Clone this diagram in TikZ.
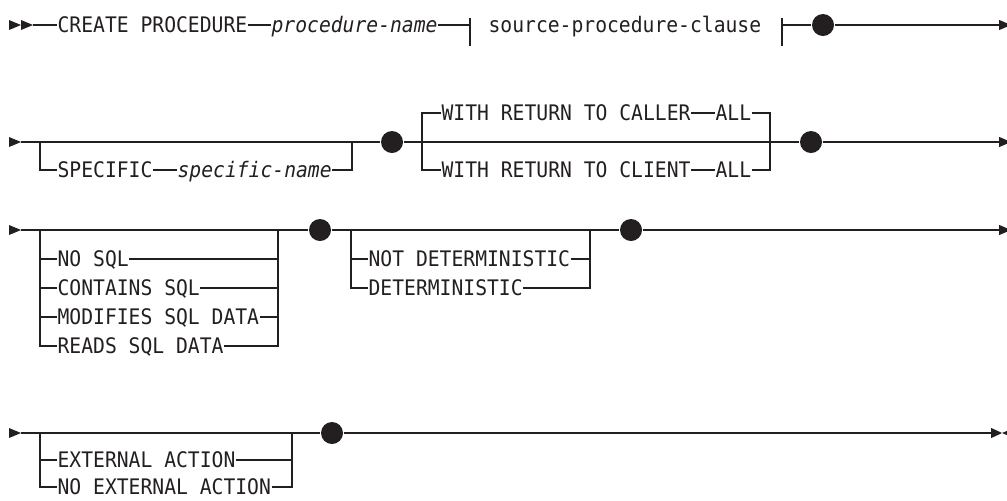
\documentclass[tikz,border=0pt]{standalone}
\usepackage{fontspec}
\usepackage{xcolor}
\usepackage{tikz}
\usetikzlibrary{arrows.meta, positioning}
\newfontfamily\railfont[FakeStretch=0.92]{DejaVu Sans Mono}
\definecolor{ink}{RGB}{35,31,32}

\begin{document}
\begin{tikzpicture}[
    x=0.5pt, y=-0.5pt,
    ink,
    line width=0.6pt,
    kw/.style={font={\railfont\fontsize{10.7}{12}\selectfont}, anchor=west, inner sep=0pt, text height=7.8pt, text depth=0pt},
    var/.style={kw, font={\railfont\itshape\fontsize{10.7}{12}\selectfont}},
    bullet/.style={circle, fill=ink, inner sep=0pt, minimum size=11pt},
    rail/.style={-{Triangle[length=6pt, width=5pt]}},
    starttip/.pic={\fill (0,-5) -- (12,0) -- (0,5) -- cycle;}
    ]
    \useasboundingbox (0,0) rectangle (1007,500);

    % -------------------------------
    % ROW 1
    % -------------------------------
    \pic at (9,25) {starttip};
    \pic at (21,25) {starttip};
    \coordinate (s1) at (33,25);
    \node[kw] (create) at (57,25) {CREATE PROCEDURE};
    \node[var] (pname) at (271,25) {procedure-name};
    \coordinate (f1) at (470,25);
    \node[kw] (clause) at (488,25) {source-procedure-clause};
    \coordinate (f2) at (782,25);
    \node[bullet] (d1) at (823,25) {};
    \coordinate (e1) at (1011,25);

    \draw (s1) -- (create.west);
    \draw (create.east) -- (pname.west);
    \draw (pname.east) -- (f1);
    \draw (f1) ++(0,-7) -- ++(0,28);
    \draw (f2) ++(0,-7) -- ++(0,28);
    \draw (f2) -- (d1);
    \draw[rail] (d1) -- (e1);

    % -------------------------------
    % ROW 2
    % -------------------------------
    \pic at (9,142) {starttip};
    \coordinate (s2) at (21,142);
    \coordinate (j2a) at (40,142);
    \node[kw] (spec) at (57,170) {SPECIFIC};
    \node[var] (sname) at (177,170) {specific-name};
    \coordinate (j2b) at (352,142);
    \node[bullet] (d2) at (392,142) {};
    \coordinate (j2c) at (422,142);
    \node[kw] (caller) at (441,113) {WITH RETURN TO CALLER};
    \node[kw] (all1) at (715,113) {ALL};
    \node[kw] (client) at (441,170) {WITH RETURN TO CLIENT};
    \node[kw] (all2) at (715,170) {ALL};
    \coordinate (j2d) at (770,142);
    \node[bullet] (d3) at (811,142) {};
    \coordinate (e2) at (1011,142);

    \draw (s2) -- (d2);
    \draw (j2a) |- (spec.west);
    \draw (spec.east) -- (sname.west);
    \draw (sname.east) -| (j2b);
    \draw (d2) -- (d3);
    \draw (j2c) |- (caller.west);
    \draw (j2c) |- (client.west);
    \draw (caller.east) -- (all1.west);
    \draw (client.east) -- (all2.west);
    \draw (all1.east) -| (j2d);
    \draw (all2.east) -| (j2d);
    \draw[rail] (d3) -- (e2);

    % -------------------------------
    % ROW 3
    % -------------------------------
    \pic at (9,230) {starttip};
    \coordinate (s3) at (21,230);
    \coordinate (j3a) at (40,230);
    \node[kw] (nosql) at (57,259) {NO SQL};
    \node[kw] (contains) at (57,288) {CONTAINS SQL};
    \node[kw] (modifies) at (57,317) {MODIFIES SQL DATA};
    \node[kw] (reads) at (57,346) {READS SQL DATA};
    \coordinate (j3b) at (278,230);
    \node[bullet] (d4) at (320,230) {};
    \coordinate (j3c) at (351,230);
    \node[kw] (notdet) at (368,259) {NOT DETERMINISTIC};
    \node[kw] (det) at (368,288) {DETERMINISTIC};
    \coordinate (j3d) at (590,230);
    \node[bullet] (d5) at (631,230) {};
    \coordinate (e3) at (1011,230);

    \draw (s3) -- (d4);
    \draw (j3a) |- (nosql.west);
    \draw (j3a) |- (contains.west);
    \draw (j3a) |- (modifies.west);
    \draw (j3a) |- (reads.west);
    \draw (nosql.east) -| (j3b);
    \draw (contains.east) -| (j3b);
    \draw (modifies.east) -| (j3b);
    \draw (reads.east) -| (j3b);
    \draw (d4) -- (d5);
    \draw (j3c) |- (notdet.west);
    \draw (j3c) |- (det.west);
    \draw (notdet.east) -| (j3d);
    \draw (det.east) -| (j3d);
    \draw[rail] (d5) -- (e3);

    % -------------------------------
    % ROW 4
    % -------------------------------
    \pic at (9,433) {starttip};
    \coordinate (s4) at (21,433);
    \coordinate (j4a) at (40,433);
    \node[kw] (extact) at (57,460) {EXTERNAL ACTION};
    \node[kw] (noext) at (57,487) {NO EXTERNAL ACTION};
    \coordinate (j4b) at (292,433);
    \node[bullet] (d6) at (332,433) {};
    \coordinate (e4) at (1002,433);

    \draw (s4) -- (d6);
    \draw (j4a) |- (extact.west);
    \draw (j4a) |- (noext.west);
    \draw (extact.east) -| (j4b);
    \draw (noext.east) -| (j4b);
    \draw[-{Triangle[length=5.5pt, width=5pt]}] (d6) -- (e4);
    \pic[xscale=-1] at (1014,433) {starttip};

\end{tikzpicture}
\end{document}
